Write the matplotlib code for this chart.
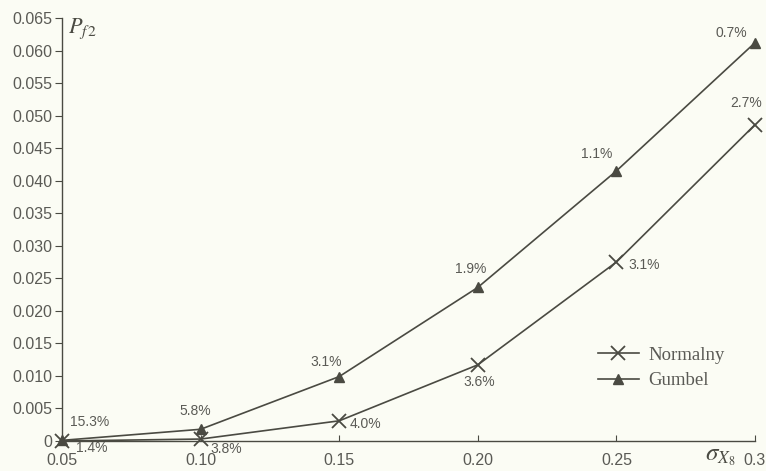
import matplotlib
matplotlib.use("Agg")
import matplotlib.pyplot as plt

sigma = [0.05, 0.10, 0.15, 0.20, 0.25, 0.30]
normalny = [0.0000, 0.0003, 0.0031, 0.0117, 0.0275, 0.0486]
gumbel = [0.0001, 0.0018, 0.0099, 0.0236, 0.0415, 0.0612]
normalny_pct = ["1.4%", "3.8%", "4.0%", "3.6%", "3.1%", "2.7%"]
gumbel_pct = ["15.3%", "5.8%", "3.1%", "1.9%", "1.1%", "0.7%"]
xtick_vals = [0.05, 0.10, 0.15, 0.20, 0.25, 0.30]
xtick_labels = ["0.05", "0.10", "0.15", "0.20", "0.25", "0.3"]
ytick_vals = [0, 0.005, 0.010, 0.015, 0.020, 0.025, 0.030, 0.035, 0.040,
              0.045, 0.050, 0.055, 0.060, 0.065]
ytick_labels = ["0", "0.005", "0.010", "0.015", "0.020", "0.025", "0.030",
                "0.035", "0.040", "0.045", "0.050", "0.055", "0.060", "0.065"]

plt.rcParams['font.family'] = ['Liberation Sans', 'DejaVu Sans']
plt.rcParams['mathtext.fontset'] = 'stix'

bg = '#fbfcf4'
lc = '#4a4a42'
tc = '#5a5a55'

fig = plt.figure(figsize=(7.66, 4.71), dpi=100, facecolor=bg)
ax = fig.add_axes([0.081, 0.0637, 0.9046, 0.8981])
ax.set_facecolor(bg)

ax.plot(sigma, normalny, color=lc, lw=1.2, marker='x', ms=10, mew=1.3,
        label='Normalny', clip_on=False)
ax.plot(sigma, gumbel, color=lc, lw=1.2, marker='^', ms=7,
        label='Gumbel', clip_on=False)

ax.set_xlim(0.05, 0.30)
ax.set_ylim(0, 0.065)
ax.set_xticks(xtick_vals)
ax.set_xticklabels(xtick_labels)
ax.set_yticks(ytick_vals)
ax.set_yticklabels(ytick_labels)

for s in ['top', 'right']:
    ax.spines[s].set_visible(False)
for s in ['left', 'bottom']:
    ax.spines[s].set_color(lc)
    ax.spines[s].set_linewidth(1.0)

ax.tick_params(axis='y', direction='out', length=5, color=lc, labelcolor=tc,
               labelsize=11.5, pad=2)
ax.tick_params(axis='x', direction='in', length=4, color=lc, labelcolor=tc,
               labelsize=11.5, pad=9)

g_off = [(28, 18), (-5, 18), (-13, 15), (-7, 18), (-20, 17), (-24, 10)]
n_off = [(30, -7), (26, -10), (26, -3), (1, -17), (28, -3), (-9, 22)]
for x, y, t, o in zip(sigma, gumbel, gumbel_pct, g_off):
    ax.annotate(t, (x, y), xytext=o, textcoords='offset pixels',
                ha='center', va='center', fontsize=10, color=tc,
                annotation_clip=False)
for x, y, t, o in zip(sigma, normalny, normalny_pct, n_off):
    ax.annotate(t, (x, y), xytext=o, textcoords='offset pixels',
                ha='center', va='center', fontsize=10, color=tc,
                annotation_clip=False)

fig.text(68 / 766, 1 - 29 / 471, r'$P_{f\,2}$', fontsize=16, color=lc,
         ha='left', va='center')
fig.text(736 / 766, 3 / 471, r'$\sigma_{X_8}$', fontsize=18, color=lc,
         ha='right', va='bottom')

leg = ax.legend(loc='upper left', bbox_to_anchor=(590 / 766, 1 - 339 / 471),
                bbox_transform=fig.transFigure, frameon=False,
                prop={'family': 'Liberation Serif', 'size': 13.5},
                handlelength=2.2, handletextpad=0.5, labelspacing=0.45,
                borderaxespad=0)
for t in leg.get_texts():
    t.set_color(tc)

fig.savefig('out.png', dpi=100, facecolor=bg)
